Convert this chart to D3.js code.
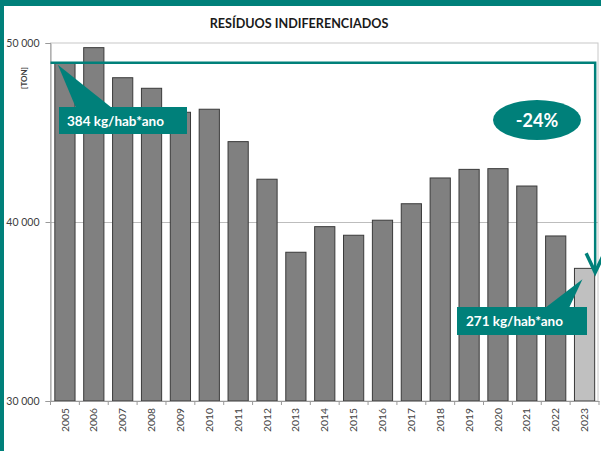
<!DOCTYPE html>
<html><head><meta charset="utf-8">
<script src="https://cdn.jsdelivr.net/npm/d3@7"></script>
<style>
html,body{margin:0;padding:0;background:#fff;}
svg{display:block;font-family:Lato,"Open Sans",sans-serif;}
</style></head>
<body>
<svg id="c" width="601" height="451"></svg>
<script>
const years = ["2005","2006","2007","2008","2009","2010","2011","2012","2013","2014","2015","2016","2017","2018","2019","2020","2021","2022","2023"];
const tons = [48900,49740,48060,47470,46130,46300,44490,42390,38310,39740,39260,40100,41020,42460,42940,42980,42010,39220,37410];
const yTicks = [30000,40000,50000];
const yTickLabels = ["30 000","40 000","50 000"];
const title = "RESÍDUOS INDIFERENCIADOS";
const unitLabel = "[TON]";
const startLabel = "384 kg/hab*ano";
const endLabel = "271 kg/hab*ano";
const changeLabel = "-24%";

const teal = "#00807A";
const svg = d3.select("#c");
const W = 601, H = 451;
const m = {l:50.5, r:2, t:43, b:50};

// frame
svg.append("rect").attr("x",0).attr("y",0).attr("width",W).attr("height",6).attr("fill",teal);
svg.append("rect").attr("x",0).attr("y",0).attr("width",4).attr("height",H).attr("fill",teal);

const x = d3.scaleBand().domain(years).range([m.l, W - m.r]).paddingInner(0.3).paddingOuter(0.15);
const y = d3.scaleLinear().domain([30000,50000]).range([H - m.b, m.t]);

// title
svg.append("text").attr("x",299).attr("y",28).attr("text-anchor","middle")
  .attr("font-size",12.6).attr("font-weight","bold").attr("fill","#1a1a1a").text(title);

// plot box border
svg.append("rect").attr("x",m.l).attr("y",y(50000)).attr("width",W - m.r - m.l - 1).attr("height",y(30000)-y(50000))
  .attr("fill","none").attr("stroke","#c8c8c8").attr("stroke-width",1);

// gridlines
svg.append("g").selectAll("line").data([40000]).join("line")
  .attr("x1",m.l).attr("x2",W - m.r - 1).attr("y1",d=>Math.round(y(d))+0.5).attr("y2",d=>Math.round(y(d))+0.5)
  .attr("stroke","#bdbdbd").attr("stroke-width",1);

// y axis
const yAxis = d3.axisLeft(y).tickValues(yTicks).tickFormat((d,i)=>yTickLabels[i]).tickSize(5).tickPadding(6);
const ga = svg.append("g").attr("transform",`translate(${m.l},0)`).call(yAxis);
ga.select(".domain").attr("stroke","#9a9a9a");
ga.selectAll(".tick line").attr("stroke","#9a9a9a");
ga.selectAll(".tick text").attr("font-size",10.5).attr("fill","#404040").attr("font-family","Lato,sans-serif");

// unit label
svg.append("text").attr("transform","translate(27,78) rotate(-90)").attr("text-anchor","middle")
  .attr("font-size",8).attr("font-weight","bold").attr("fill","#404040").text(unitLabel);

// bars
svg.append("g").selectAll("rect").data(years).join("rect")
  .attr("x",d=>x(d)).attr("width",x.bandwidth())
  .attr("y",(d,i)=>y(tons[i])).attr("height",(d,i)=>y(30000)-y(tons[i]))
  .attr("fill",(d,i)=> i===years.length-1 ? "#c0c0c0" : "#808080")
  .attr("stroke","#3a3a3a").attr("stroke-width",1);

// x axis
const xAxis = d3.axisBottom(x).tickSize(0).tickPadding(0);
const gx = svg.append("g").attr("transform",`translate(0,${y(30000)})`).call(xAxis);
gx.select(".domain").attr("stroke","#9a9a9a");
gx.selectAll(".tick text").attr("font-size",10.3).attr("fill","#404040").attr("font-family","Lato,sans-serif")
  .attr("transform","rotate(-90)").attr("text-anchor","end").attr("dy","0.35em").attr("x",-7).attr("y",0);
// band boundary ticks
const step = x.step();
const bounds = years.map(d=>x(d) - x.paddingInner()*step/2).concat([x(years[years.length-1]) + x.bandwidth() + x.paddingInner()*step/2]);
gx.append("g").selectAll("line").data(bounds).join("line")
  .attr("x1",d=>d).attr("x2",d=>d).attr("y1",0).attr("y2",4).attr("stroke","#9a9a9a");

// teal reference line + arrow
const yStart = y(tons[0]);
const xRight = x(years[years.length-1]) + x.bandwidth() + 0.5;
const yEnd = y(tons[tons.length-1]) + 4;
svg.append("path").attr("d",`M${m.l},${yStart} H${xRight} V${yEnd}`)
  .attr("fill","none").attr("stroke",teal).attr("stroke-width",2.5);
svg.append("path").attr("d",`M${xRight-9},${yEnd-19} L${xRight},${yEnd} L${xRight+9},${yEnd-19}`)
  .attr("fill","none").attr("stroke",teal).attr("stroke-width",3.5).attr("stroke-linejoin","miter");

// callout 1
const cx1 = x(years[0]) + 3;
svg.append("path").attr("d",`M${cx1},${yStart+2} L112,108 L76,108 Z`).attr("fill",teal);
svg.append("rect").attr("x",59).attr("y",107).attr("width",128).attr("height",27).attr("fill",teal);
svg.append("text").attr("x",67).attr("y",125.5).attr("font-size",13.5).attr("font-weight","bold").attr("fill","#fff").text(startLabel);

// callout 2
const cx2 = x(years[years.length-1]) + 8;
const cy2 = y(tons[tons.length-1]) + 11;
svg.append("path").attr("d",`M${cx2},${cy2} L569,308 L545,308 Z`).attr("fill",teal);
svg.append("rect").attr("x",457).attr("y",307).attr("width",130).attr("height",28).attr("fill",teal);
svg.append("text").attr("x",466).attr("y",326).attr("font-size",13.5).attr("font-weight","bold").attr("fill","#fff").text(endLabel);

// ellipse
svg.append("ellipse").attr("cx",537).attr("cy",120).attr("rx",44).attr("ry",20).attr("fill",teal);
svg.append("text").attr("x",537).attr("y",126.5).attr("text-anchor","middle").attr("font-size",18).attr("font-weight","bold").attr("fill","#fff").text(changeLabel);
</script>
</body></html>
